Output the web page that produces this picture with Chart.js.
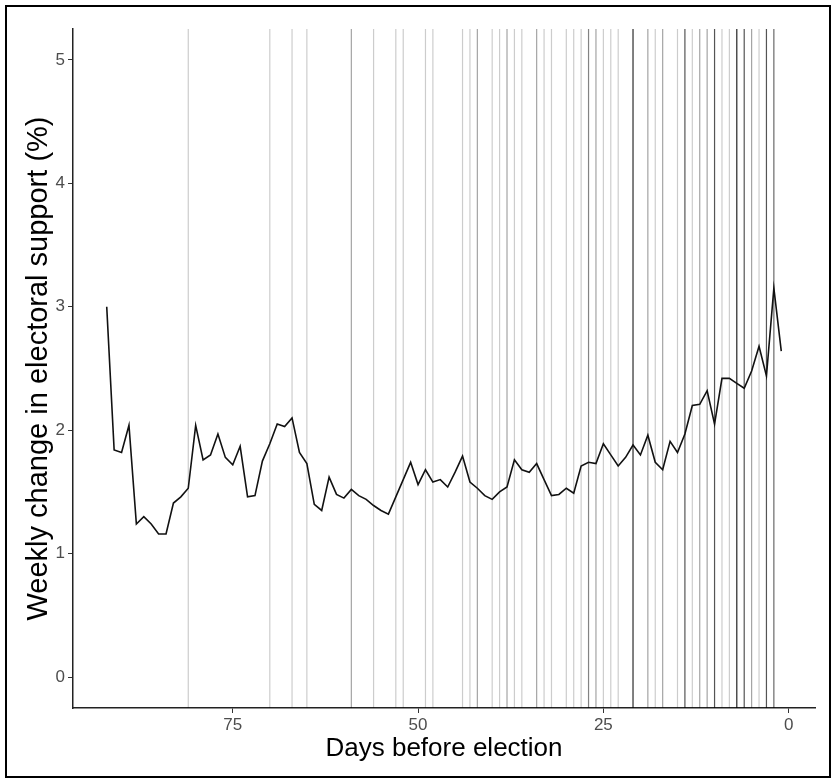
<!DOCTYPE html>
<html>
<head>
<meta charset="utf-8">
<script src="https://cdn.jsdelivr.net/npm/chart.js@4.4.0/dist/chart.umd.min.js"></script>
<style>
  html, body { margin: 0; padding: 0; background: #fff; }
  #wrap { position: relative; width: 834px; height: 781px; }
  #frame { position: absolute; left: 5px; top: 5px; width: 822px; height: 769px; border: 2px solid #000; pointer-events: none; }
</style>
</head>
<body>
<div id="wrap">
  <canvas id="myChart" width="834" height="781"></canvas>
  <div id="frame"></div>
</div>
<script>
// Days before election (x) and weekly change in support (%)
const days = [92, 91, 90, 89, 88, 87, 86, 85, 84, 83, 82, 81, 80, 79, 78, 77, 76, 75, 74, 73,
  72, 71, 70, 69, 68, 67, 66, 65, 64, 63, 62, 61, 60, 59, 58, 57, 56, 55, 54, 53,
  52, 51, 50, 49, 48, 47, 46, 45, 44, 43, 42, 41, 40, 39, 38, 37, 36, 35, 34, 33,
  32, 31, 30, 29, 28, 27, 26, 25, 24, 23, 22, 21, 20, 19, 18, 17, 16, 15, 14, 13,
  12, 11, 10, 9, 8, 7, 6, 5, 4, 3, 2, 1];
const support = [3.00, 1.84, 1.82, 2.04, 1.24, 1.30, 1.24, 1.16, 1.16, 1.41, 1.46, 1.53, 2.04, 1.76, 1.80, 1.97, 1.78, 1.72, 1.87, 1.46,
  1.47, 1.75, 1.89, 2.05, 2.03, 2.10, 1.82, 1.73, 1.40, 1.35, 1.62, 1.48, 1.45, 1.52, 1.47, 1.44, 1.39, 1.35, 1.32, 1.46,
  1.60, 1.74, 1.56, 1.68, 1.58, 1.60, 1.54, 1.66, 1.79, 1.58, 1.53, 1.47, 1.44, 1.50, 1.54, 1.76, 1.68, 1.66, 1.73, 1.60,
  1.47, 1.48, 1.53, 1.49, 1.71, 1.74, 1.73, 1.89, 1.80, 1.71, 1.78, 1.88, 1.80, 1.96, 1.74, 1.68, 1.91, 1.82, 1.97, 2.20,
  2.21, 2.32, 2.05, 2.42, 2.42, 2.38, 2.34, 2.48, 2.68, 2.44, 3.15, 2.64];

// Event days (vertical lines) and how many events fell on each day
const eventDays = [81, 70, 67, 65, 59, 56, 53, 52, 49, 48, 44, 43, 42, 40, 39, 38, 37, 36, 34, 33, 32, 30, 29, 28,
  27, 26, 25, 24, 23, 21, 19, 18, 17, 15, 14, 13, 12, 11, 10, 9, 8, 7, 6, 5, 4, 3, 2];
const eventCounts = [1, 1, 1, 1, 2, 1, 1, 1, 1, 1, 1, 1, 2, 1, 1, 2, 1, 1, 2, 1, 1, 1, 1, 1,
  3, 2, 1, 1, 1, 8, 2, 1, 2, 1, 5, 1, 2, 2, 5, 1, 1, 9, 5, 2, 1, 5, 4];

const xTicks = [0, 25, 50, 75];
const yTicks = [0, 1, 2, 3, 4, 5];

Chart.defaults.font.family = "'Liberation Sans', Arial, sans-serif";

const eventAlpha = 0.2;
const yLow = -0.25, yHigh = 5.25;

const datasets = [{
  data: days.map((d, i) => ({ x: d, y: support[i] })),
  borderColor: '#111',
  borderWidth: 1.6,
  pointRadius: 0,
  tension: 0
}];

eventDays.forEach((d, i) => {
  const a = 1 - Math.pow(1 - eventAlpha, eventCounts[i]);
  datasets.push({
    data: [{ x: d, y: yLow }, { x: d, y: yHigh }],
    borderColor: `rgba(0,0,0,${a.toFixed(3)})`,
    borderWidth: 1.2,
    pointRadius: 0
  });
});

const ctx = document.getElementById('myChart').getContext('2d');

new Chart(ctx, {
  type: 'line',
  data: { datasets: datasets },
  options: {
    responsive: false,
    animation: false,
    layout: { padding: { top: 29, right: 19, left: 0, bottom: 0 } },
    plugins: {
      legend: { display: false },
      tooltip: { enabled: false }
    },
    scales: {
      x: {
        type: 'linear',
        reverse: true,
        min: -3.55,
        max: 96.55,
        afterBuildTicks: s => { s.ticks = xTicks.map(v => ({ value: v })); },
        afterFit: s => { s.height = 73; },
        grid: { drawOnChartArea: false, tickLength: 5, tickColor: '#333', tickWidth: 1 },
        border: { color: '#222', width: 1.5 },
        ticks: { color: '#4d4d4d', font: { size: 17 }, padding: 2, maxRotation: 0 },
        title: {
          display: true,
          text: 'Days before election',
          color: '#000',
          font: { size: 26 },
          padding: { top: 0, bottom: 17 }
        }
      },
      y: {
        min: yLow,
        max: yHigh,
        afterBuildTicks: s => { s.ticks = yTicks.map(v => ({ value: v })); },
        afterFit: s => { s.width = 73; },
        grid: { drawOnChartArea: false, tickLength: 5, tickColor: '#333', tickWidth: 1 },
        border: { color: '#222', width: 1.5 },
        ticks: { color: '#4d4d4d', font: { size: 17 }, padding: 3 },
        title: {
          display: true,
          text: 'Weekly change in electoral support (%)',
          color: '#000',
          font: { size: 29 },
          padding: { top: 22, bottom: 0 }
        }
      }
    }
  }
});
</script>
</body>
</html>
